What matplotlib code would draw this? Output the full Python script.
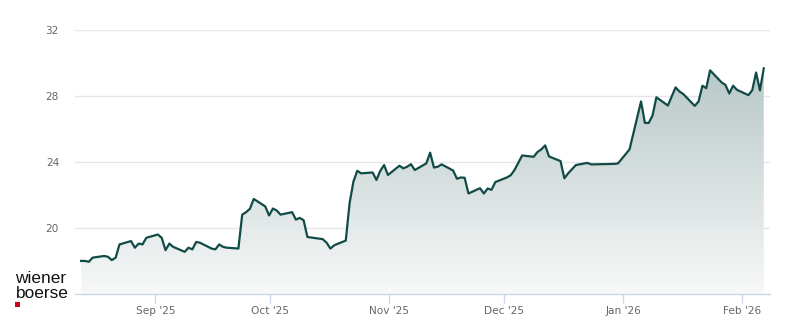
import matplotlib
matplotlib.use("Agg")
import matplotlib.pyplot as plt
import matplotlib.dates as mdates
from matplotlib.patches import Rectangle
import numpy as np
import pandas as pd

dates = [
    "2025-08-12", "2025-08-13", "2025-08-14", "2025-08-15", "2025-08-18", "2025-08-19",
    "2025-08-20", "2025-08-21", "2025-08-22", "2025-08-25", "2025-08-26", "2025-08-27",
    "2025-08-28", "2025-08-29", "2025-09-01", "2025-09-02", "2025-09-03", "2025-09-04",
    "2025-09-05", "2025-09-08", "2025-09-09", "2025-09-10", "2025-09-11", "2025-09-12",
    "2025-09-15", "2025-09-16", "2025-09-17", "2025-09-18", "2025-09-19", "2025-09-22",
    "2025-09-23", "2025-09-24", "2025-09-25", "2025-09-26", "2025-09-29", "2025-09-30",
    "2025-10-01", "2025-10-02", "2025-10-03", "2025-10-06", "2025-10-07", "2025-10-08",
    "2025-10-09", "2025-10-10", "2025-10-13", "2025-10-14", "2025-10-15", "2025-10-16",
    "2025-10-17", "2025-10-20", "2025-10-21", "2025-10-22", "2025-10-23", "2025-10-24",
    "2025-10-27", "2025-10-28", "2025-10-29", "2025-10-30", "2025-10-31", "2025-11-03",
    "2025-11-04", "2025-11-05", "2025-11-06", "2025-11-07", "2025-11-10", "2025-11-11",
    "2025-11-12", "2025-11-13", "2025-11-14", "2025-11-17", "2025-11-18", "2025-11-19",
    "2025-11-20", "2025-11-21", "2025-11-24", "2025-11-25", "2025-11-26", "2025-11-27",
    "2025-11-28", "2025-12-01", "2025-12-02", "2025-12-03", "2025-12-04", "2025-12-05",
    "2025-12-08", "2025-12-09", "2025-12-10", "2025-12-11", "2025-12-12", "2025-12-15",
    "2025-12-16", "2025-12-17", "2025-12-18", "2025-12-19", "2025-12-22", "2025-12-23",
    "2025-12-29", "2025-12-30", "2026-01-02", "2026-01-05", "2026-01-06", "2026-01-07",
    "2026-01-08", "2026-01-09", "2026-01-12", "2026-01-13", "2026-01-14", "2026-01-15",
    "2026-01-16", "2026-01-19", "2026-01-20", "2026-01-21", "2026-01-22", "2026-01-23",
    "2026-01-26", "2026-01-27", "2026-01-28", "2026-01-29", "2026-01-30", "2026-02-02",
    "2026-02-03", "2026-02-04", "2026-02-05", "2026-02-06",
]
prices = [
    18.0, 18.0, 17.95, 18.2, 18.3, 18.25,
    18.05, 18.2, 19.0, 19.2, 18.8, 19.05,
    19.0, 19.4, 19.6, 19.4, 18.65, 19.05,
    18.85, 18.55, 18.8, 18.7, 19.15, 19.1,
    18.75, 18.7, 19.0, 18.85, 18.8, 18.75,
    20.8, 20.95, 21.15, 21.75, 21.3, 20.75,
    21.17, 21.05, 20.8, 20.95, 20.5, 20.6,
    20.47, 19.45, 19.35, 19.32, 19.1, 18.75,
    18.95, 19.23, 21.5, 22.8, 23.45, 23.3,
    23.35, 22.9, 23.45, 23.8, 23.2, 23.76,
    23.6, 23.7, 23.85, 23.5, 23.9, 24.55,
    23.65, 23.7, 23.84, 23.47, 22.97, 23.05,
    23.03, 22.08, 22.4, 22.08, 22.38, 22.3,
    22.77, 23.05, 23.18, 23.5, 23.94, 24.38,
    24.3, 24.59, 24.75, 24.99, 24.32, 24.04,
    23.0, 23.3, 23.55, 23.8, 23.93, 23.84,
    23.87, 23.9, 24.75, 27.65, 26.35, 26.35,
    26.8, 27.9, 27.4, 27.95, 28.5, 28.25,
    28.1, 27.38, 27.65, 28.6, 28.45, 29.53,
    28.8, 28.65, 28.13, 28.6, 28.35, 28.03,
    28.33, 29.4, 28.32, 29.65,
]
month_ticks = ["2025-09-01", "2025-10-01", "2025-11-01", "2025-12-01", "2026-01-01", "2026-02-01"]
month_labels = ["Sep '25", "Oct '25", "Nov '25", "Dec '25", "Jan '26", "Feb '26"]
y_ticks = [20, 24, 28, 32]

line_color = "#114b47"
label_color = "#666666"

x = pd.to_datetime(dates) + pd.Timedelta(hours=16)
xn = mdates.date2num(x)
y = np.array(prices)

fig = plt.figure(figsize=(8, 3.24), dpi=100)
ax = fig.add_axes([75 / 800, 1 - 294 / 324, 695 / 800, (294 - 29.5) / 324])

ymin, ymax = 16, 32
x0 = mdates.date2num(pd.Timestamp("2025-08-11 01:30"))
x1 = mdates.date2num(pd.Timestamp("2026-02-08 07:00"))

# gradient fill
poly = ax.fill_between(xn, y, ymin, color="none", lw=0)
top_rgb = np.array([184, 200, 199]) / 255
bot_rgb = np.array([247, 248, 248]) / 255
n = 256
t = np.linspace(0, 1, n)[:, None]
grad = top_rgb[None, :] * (1 - t) + bot_rgb[None, :] * t
img = np.repeat(grad[:, None, :], 2, axis=1)
ytop = y.max()
im = ax.imshow(img, extent=[xn.min(), xn.max(), ymin, ytop], origin="upper",
               aspect="auto", zorder=1, interpolation="bilinear")
path = poly.get_paths()[0]
im.set_clip_path(path, transform=ax.transData)
ax.set_xlim(x0, x1)
ax.set_ylim(ymin, ymax)

ax.plot(xn, y, color=line_color, lw=1.6, zorder=3, solid_joinstyle="round")

for s in ["top", "right", "left"]:
    ax.spines[s].set_visible(False)
ax.spines["bottom"].set_color("#ccd6eb")
ax.spines["bottom"].set_linewidth(1)
ax.spines["bottom"].set_zorder(4)

ax.set_yticks(y_ticks)
ax.set_yticklabels([str(v) for v in y_ticks])
ax.tick_params(axis="y", length=0, pad=11.5, labelsize=7.6, labelcolor=label_color)
ax.grid(axis="y", color="#e6e6e6", lw=1)
ax.set_axisbelow(True)

ax.set_xticks(mdates.date2num(pd.to_datetime(month_ticks)))
ax.set_xticklabels(month_labels)
ax.tick_params(axis="x", length=6.5, width=1, color="#ccd6eb", pad=2,
               labelsize=7.6, labelcolor=label_color)

fig.text(15.5 / 800, 1 - 283 / 324, "wiener", family="Liberation Sans", fontsize=12.4,
         color="#111111", va="baseline", ha="left")
fig.text(15.5 / 800, 1 - 297.5 / 324, "boerse", family="Liberation Sans", fontsize=12.4,
         color="#111111", va="baseline", ha="left")
fig.patches.append(Rectangle((15 / 800, 1 - 306.5 / 324), 4.5 / 800, 4.5 / 324,
                             transform=fig.transFigure, color="#d0021b", lw=0))

fig.savefig("out.png", dpi=100)
